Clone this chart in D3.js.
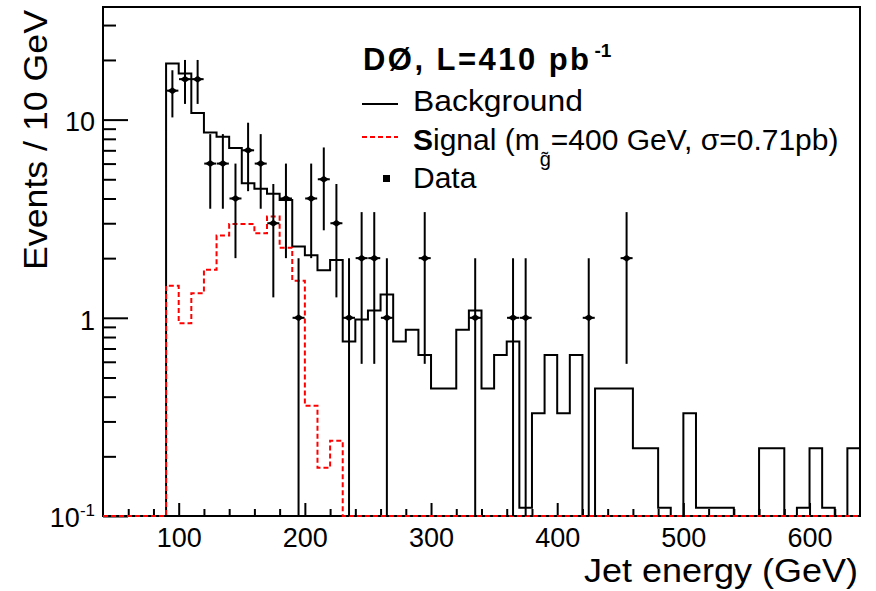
<!DOCTYPE html>
<html>
<head>
<meta charset="utf-8">
<script src="https://cdn.jsdelivr.net/npm/d3@7"></script>
<style>
  body { margin: 0; background: #fff; }
  svg { display: block; }
  text { font-family: "Liberation Sans", Arial, sans-serif; fill: #000; }
</style>
</head>
<body>
<div id="chart"></div>
<script>
// 10 GeV bins from 40 to 640 GeV
const binStart = 40;
const binWidth = 10;

// expected background per bin (40 ... 630)
const background = [
  0, 0, 0, 0, 0,
  19.2, 17.1, 10.8, 8.6, 8.2, 7.2, 4.77, 4.48, 4.23, 3.93,
  2.29, 2.07, 1.74, 1.96, 0.76, 0.98, 1.09, 1.31, 0.76, 0.87,
  0.65, 0.44, 0.44, 0.87, 1.09, 0.44, 0.65, 0.76, 0.11, 0.33,
  0.65, 0.33, 0.65, 0, 0.44, 0.44, 0.44, 0.22, 0.22, 0.11,
  0, 0.33, 0.11, 0.11, 0.11, 0, 0, 0.22, 0.22, 0,
  0.11, 0.22, 0.11, 0, 0.22
];

// signal, m_gluino = 400 GeV
const signal = [
  0, 0, 0, 0, 0,
  1.45, 0.94, 1.33, 1.75, 2.6, 2.97, 2.97, 2.67, 3.24, 2.26,
  1.54, 0.36, 0.175, 0.24, 0, 0, 0, 0, 0, 0,
  0, 0, 0, 0, 0, 0, 0, 0, 0, 0,
  0, 0, 0, 0, 0, 0, 0, 0, 0, 0,
  0, 0, 0, 0, 0, 0, 0, 0, 0, 0,
  0, 0, 0, 0, 0
];

// observed events (bin centre, count)
const dataCenters = [95, 105, 115, 125, 135, 145, 155, 165, 175, 185, 195, 205,
  215, 225, 235, 245, 255, 265, 295, 335, 365, 375, 425, 455];
const dataCounts = [14, 16, 16, 6, 6, 4, 7, 6, 3, 4, 1, 4,
  5, 3, 1, 2, 2, 1, 2, 1, 1, 1, 1, 2];

const xTicks = [100, 200, 300, 400, 500, 600];
const yTicks = [0.1, 1, 10];
const yMinorTicks = [0.2, 0.3, 0.4, 0.5, 0.6, 0.7, 0.8, 0.9,
  2, 3, 4, 5, 6, 7, 8, 9, 20, 30];

const width = 876, height = 591;
const frame = { left: 103, right: 860, top: 7, bottom: 516 };

const x = d3.scaleLinear().domain([40, 640]).range([frame.left, frame.right]);
const y = d3.scaleLog().domain([0.1, 37]).range([frame.bottom, frame.top]);
// clamp to the frame like ROOT does
const yc = v => v > 0.1 ? Math.max(y(v), frame.top) : frame.bottom;

const svg = d3.select('#chart').append('svg')
  .attr('width', width)
  .attr('height', height);

// axes (ticks point inwards)
const xMinor = d3.range(60, 640, 20).filter(v => v % 100 !== 0);
svg.append('g')
  .attr('transform', `translate(0,${frame.bottom})`)
  .call(d3.axisBottom(x).tickValues(xMinor).tickSize(-7).tickFormat(''))
  .call(g => g.select('.domain').remove());

svg.append('g')
  .attr('transform', `translate(0,${frame.bottom})`)
  .call(d3.axisBottom(x).tickValues(xTicks).tickSize(-13).tickPadding(12).tickFormat(d3.format('d')))
  .call(g => g.select('.domain').remove())
  .call(g => g.selectAll('text').style('font-size', '27px').attr('font-family', null));

svg.append('g')
  .attr('transform', `translate(${frame.left},0)`)
  .call(d3.axisLeft(y).tickValues(yMinorTicks).tickSize(-13).tickFormat(''))
  .call(g => g.select('.domain').remove());

svg.append('g')
  .attr('transform', `translate(${frame.left},0)`)
  .call(d3.axisLeft(y).tickValues(yTicks).tickSize(-25).tickPadding(8).tickFormat(d => d >= 1 ? d3.format('d')(d) : ''))
  .call(g => g.select('.domain').remove())
  .call(g => g.selectAll('text').style('font-size', '27px').attr('font-family', null).attr('dy', '0.42em'));

svg.selectAll('.tick line').attr('stroke', '#000').attr('stroke-width', 2);

// 10^-1 label
const lowLabel = svg.append('text')
  .attr('x', frame.left - 8)
  .attr('y', y(0.1) + 11)
  .attr('text-anchor', 'end')
  .style('font-size', '27px');
lowLabel.append('tspan').text('10');
lowLabel.append('tspan').attr('dy', -11).style('font-size', '17px').text('-1');

// frame
svg.append('rect')
  .attr('x', frame.left)
  .attr('y', frame.top)
  .attr('width', frame.right - frame.left)
  .attr('height', frame.bottom - frame.top)
  .attr('fill', 'none')
  .attr('stroke', '#000')
  .attr('stroke-width', 2);

// histograms as steps
function steps(values) {
  const pts = [];
  values.forEach((v, i) => {
    const lo = binStart + i * binWidth;
    pts.push([lo, v], [lo + binWidth, v]);
  });
  return pts;
}
const stepLine = d3.line().x(d => x(d[0])).y(d => yc(d[1]));

svg.append('path')
  .attr('d', stepLine(steps(background)))
  .attr('fill', 'none')
  .attr('stroke', '#000')
  .attr('stroke-width', 2);

svg.append('path')
  .attr('d', stepLine(steps(signal)))
  .attr('fill', 'none')
  .attr('stroke', '#ff0000')
  .attr('stroke-width', 2)
  .attr('stroke-dasharray', '5,3');

// data points with sqrt(N) errors
const pts = svg.append('g').selectAll('g')
  .data(dataCenters.map((c, i) => ({ c, n: dataCounts[i] })))
  .join('g')
  .attr('transform', d => `translate(${x(d.c)},0)`);

pts.append('line')
  .attr('y1', d => yc(d.n + Math.sqrt(d.n)))
  .attr('y2', d => yc(d.n - Math.sqrt(d.n)))
  .attr('stroke', '#000')
  .attr('stroke-width', 2);

pts.append('line')
  .attr('x1', -6).attr('x2', 6)
  .attr('y1', d => y(d.n)).attr('y2', d => y(d.n))
  .attr('stroke', '#000')
  .attr('stroke-width', 2);

pts.append('path')
  .attr('d', d => `M-5,${y(d.n)}L0,${y(d.n) - 3.5}L5,${y(d.n)}L0,${y(d.n) + 3.5}Z`)
  .attr('fill', '#000');

// axis titles
svg.append('text')
  .attr('x', 858)
  .attr('y', 582)
  .attr('text-anchor', 'end')
  .attr('textLength', 274)
  .attr('lengthAdjust', 'spacingAndGlyphs')
  .style('font-size', '34px')
  .text('Jet energy (GeV)');

svg.append('text')
  .attr('transform', 'translate(47,10) rotate(-90)')
  .attr('text-anchor', 'end')
  .attr('textLength', 260)
  .attr('lengthAdjust', 'spacingAndGlyphs')
  .style('font-size', '34px')
  .text('Events / 10 GeV');

// legend
const header = svg.append('text')
  .attr('x', 363)
  .attr('y', 70)
  .style('font-size', '31px')
  .style('font-weight', 'bold');
header.append('tspan').attr('textLength', 226).attr('lengthAdjust', 'spacing').text('DØ, L=410 pb');
header.append('tspan').attr('dx', 3).attr('dy', -13).style('font-size', '19px').text('-1');

svg.append('line')
  .attr('x1', 362).attr('x2', 398)
  .attr('y1', 104).attr('y2', 104)
  .attr('stroke', '#000').attr('stroke-width', 2);
svg.append('text')
  .attr('x', 413).attr('y', 111)
  .attr('textLength', 170)
  .attr('lengthAdjust', 'spacingAndGlyphs')
  .style('font-size', '30px')
  .text('Background');

svg.append('line')
  .attr('x1', 362).attr('x2', 398)
  .attr('y1', 137).attr('y2', 137)
  .attr('stroke', '#ff0000').attr('stroke-width', 2)
  .attr('stroke-dasharray', '5,3');
const sigLabel = svg.append('text')
  .attr('x', 413).attr('y', 150)
  .style('font-size', '30px');
sigLabel.append('tspan').style('font-weight', 'bold').text('S');
sigLabel.append('tspan').text('ignal (m');
sigLabel.append('tspan').attr('dy', 16).style('font-size', '20px').text('g\u0303');
sigLabel.append('tspan').attr('dy', -16).text('=400 GeV, σ=0.71pb)');

svg.append('rect')
  .attr('x', 383).attr('y', 175)
  .attr('width', 7).attr('height', 7)
  .attr('fill', '#000');
svg.append('text')
  .attr('x', 413).attr('y', 188)
  .style('font-size', '30px')
  .text('Data');
</script>
</body>
</html>
